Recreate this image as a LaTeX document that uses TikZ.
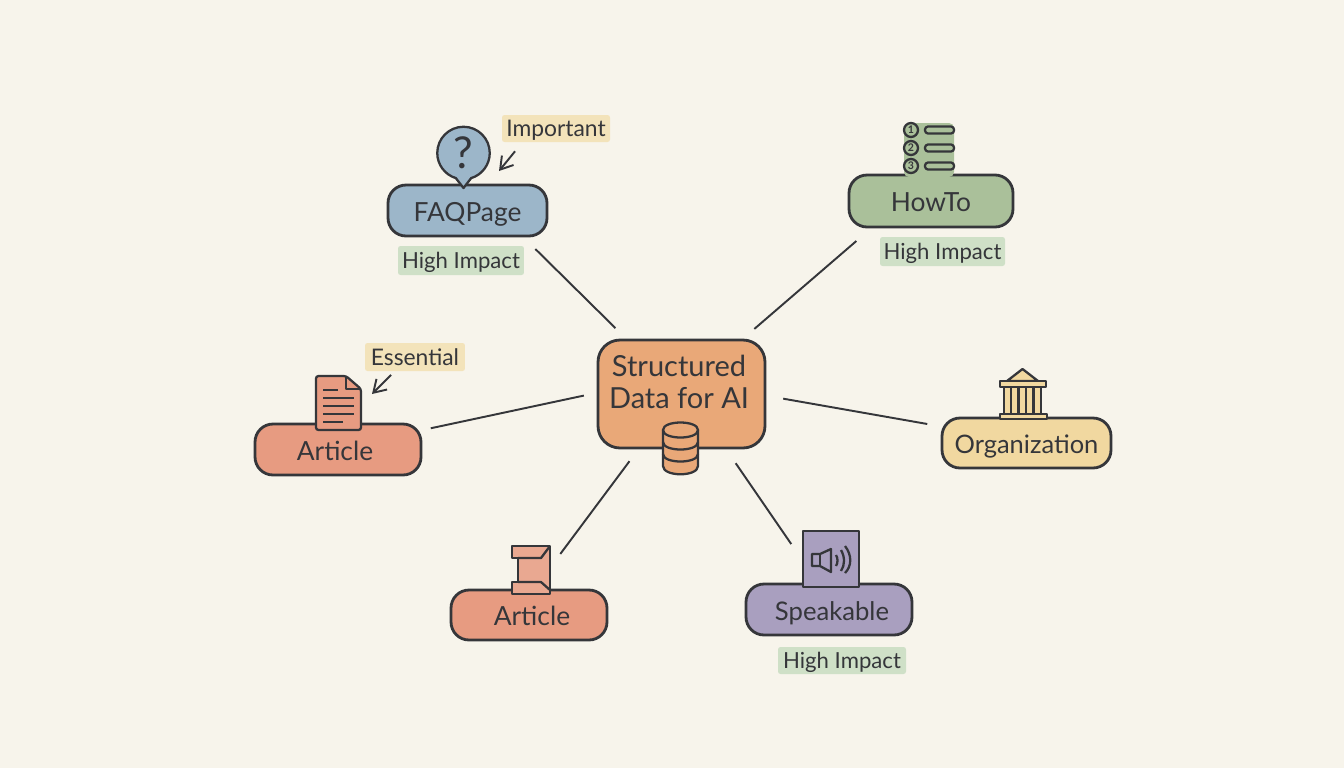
\documentclass[tikz,border=0pt]{standalone}
\usepackage{fontspec}
\setmainfont{Lato}
\usetikzlibrary{arrows.meta,shapes.callouts}

\definecolor{paper}{HTML}{F7F4EB}
\definecolor{ink}{HTML}{35363A}
\definecolor{hubfill}{HTML}{E9A878}
\definecolor{faqfill}{HTML}{9CB6C9}
\definecolor{howfill}{HTML}{AAC09A}
\definecolor{artfill}{HTML}{E79B81}
\definecolor{orgfill}{HTML}{F1D8A0}
\definecolor{spkfill}{HTML}{A99FBF}
\definecolor{goldtag}{HTML}{F3E3BA}
\definecolor{greentag}{HTML}{CFE0C7}

\tikzset{
    topic/.style={draw=ink,line width=1.6pt,rounded corners=.36cm,outer sep=0pt,inner sep=0pt,text=ink,text height=13pt,text depth=.5pt,font=\fontsize{15}{18}\selectfont},
    tag/.style={rounded corners=.05cm,outer sep=0pt,inner sep=0pt,text=ink,text height=10pt,text depth=.5pt,font=\fontsize{13}{16}\selectfont},
    impact/.style={tag,fill=greentag,font=\fontsize{12.6}{16}\selectfont},
    link/.style={draw=ink,line width=1.1pt},
    pointer/.style={draw=ink,line width=1.1pt,-{Straight Barb[length=.24cm,width=.3cm]}},
    icon/.style={draw=ink,line width=1.3pt,line join=round}
}

\begin{document}
\begin{tikzpicture}[x=.02cm,y=-.02cm]
    \useasboundingbox (0,0) rectangle (1344,768);
    \fill[paper] (0,0) rectangle (1344,768);

    % topic boxes
    \node[topic,fill=hubfill,rounded corners=.44cm,minimum width=3.34cm,minimum height=2.16cm] (hub) at (681.5,394) {};
    \node[text=ink,align=center,font=\fontsize{16.5}{17.8}\selectfont] (hubText) at (679,382) {Structured\\Data for AI};
    \node[topic,fill=faqfill,minimum width=3.18cm,minimum height=1.02cm] (faq) at (467.5,210.5) {FAQPage};
    \node[topic,fill=howfill,minimum width=3.28cm,minimum height=1.04cm] (howto) at (931,201) {HowTo};
    \node[topic,fill=artfill,minimum width=3.32cm,minimum height=1.02cm] (article) at (338,449.5) {Article\hspace*{3.4pt}};
    \node[topic,fill=orgfill,minimum width=3.38cm,minimum height=1cm,font=\fontsize{14.5}{18}\selectfont] (org) at (1026.5,443) {Organization};
    \node[topic,fill=artfill,minimum width=3.12cm,minimum height=1cm] (articleB) at (529,615) {\hspace*{3.4pt}Article};
    \node[topic,fill=spkfill,minimum width=3.32cm,minimum height=1.02cm,font=\fontsize{14.6}{18}\selectfont] (speak) at (829,609.5) {\hspace*{3.4pt}Speakable};

    % tags
    \node[tag,fill=goldtag,minimum width=2.16cm,minimum height=.54cm] (important) at (556,128.5) {Important};
    \node[tag,fill=goldtag,minimum width=2cm,minimum height=.56cm] (essential) at (415,357) {Essential};
    \node[impact,minimum width=2.52cm,minimum height=.58cm] (faqImpact) at (461,260.5) {High Impact};
    \node[impact,minimum width=2.5cm,minimum height=.58cm] (howImpact) at (942.5,251.5) {High Impact};
    \node[impact,minimum width=2.56cm,minimum height=.54cm] (spkImpact) at (842,660.5) {High Impact};

    % connectors
    \path (hub.135) edge[link,shorten <=.34cm,shorten >=.37cm] (faq.-25.6);
    \path (hub.42.2) edge[link,shorten <=.34cm,shorten >=.43cm] (howto.204.7);
    \path (hub.-1.2) edge[link,shorten <=.37cm,shorten >=.3cm] (org.169.7);
    \path (hub.179.5) edge[link,shorten <=.29cm,shorten >=.2cm] (article.13.9);
    \path (hub.232.3) edge[link,shorten <=.33cm,shorten >=.9cm] (articleB.80.9);
    \path (hub.-51.4) edge[link,shorten <=.37cm,shorten >=.97cm] (speak.112);

    % tag pointers
    \coordinate (importantTip) at (499,171);
    \coordinate (essentialTip) at (372,394);
    \draw[pointer,shorten <=.24cm] (important.202.6) -- (importantTip);
    \draw[pointer,shorten <=.11cm] (essential.215) -- (essentialTip);

    % faq icon
    \node[ellipse callout,icon,fill=faqfill,inner sep=0pt,outer sep=0pt,minimum width=1.05cm,minimum height=1.05cm,callout absolute pointer={(463.5,188)},callout pointer arc=34,text=ink,font=\fontsize{25}{28}\selectfont] (faqIcon) at (463.5,153) {?};

    % howto icon
    \fill[howfill,rounded corners=.1cm] (904,123) -- (954,123) -- (954,177) -- (904,177) -- cycle;
    \foreach \y/\n in {130/1,148/2,166/3} {
        \node[icon,circle,minimum size=.28cm,inner sep=0pt,text=ink,font=\fontsize{6}{6}\bfseries\selectfont] (step\n) at (911,\y) {\n};
        \draw[icon,fill=howfill,rounded corners=.06cm] (925,\y-3.5) rectangle (954,\y+3.5);
    }

    % database icon
    \draw[icon,fill=hubfill] (663,430) -- (663,466) .. controls (663,477) and (698,477) .. (698,466) -- (698,430) .. controls (698,420) and (663,420) .. cycle;
    \foreach \y in {430,442,454} {
        \draw[icon] (663,\y) .. controls (663,\y+10) and (698,\y+10) .. (698,\y);
    }

    % document icon
    \draw[icon,fill=artfill,rounded corners=.05cm] (316,376) -- (346,376) -- (361,389) -- (361,430) -- (316,430) -- cycle;
    \draw[icon] (346,376) -- (346,389) -- (361,389);
    \draw[icon] (323,390) -- (338,390);
    \foreach \y in {398,406,414} {
        \draw[icon] (323,\y) -- (354,\y);
    }
    \draw[icon] (323,422) -- (343,422);

    % second article icon
    \draw[icon,fill=artfill!85!paper] (512,546) -- (550,546) -- (550,594) -- (512,594) -- (512,582) -- (518,582) -- (518,558) -- (512,558) -- cycle;
    \draw[icon] (550,546) -- (541,558) -- (518,558);
    \draw[icon] (518,582) -- (541,582) -- (550,590);

    % speaker icon
    \draw[icon,fill=spkfill] (803,531) rectangle (859,587);
    \draw[icon] (812,554) -- (820,554) -- (831,549) -- (831,572) -- (820,566) -- (812,566) -- cycle;
    \draw[icon] (820,554) -- (820,566);
    \draw[icon] (836,555) .. controls (838,558) and (838,563) .. (836,566);
    \draw[icon] (841,550) .. controls (845,557) and (845,565) .. (841,571);
    \draw[icon] (845,546) .. controls (852,555) and (852,566) .. (845,573);

    % organization icon
    \draw[icon,fill=orgfill] (1022.5,369) -- (1007,381) -- (1038,381) -- cycle;
    \draw[icon,fill=orgfill] (1004,387) rectangle (1041,414);
    \foreach \x in {1011,1018.5,1026,1033.5} {
        \draw[icon] (\x,387) -- (\x,414);
    }
    \draw[icon,fill=orgfill] (1000,381) rectangle (1046,387);
    \draw[icon,fill=orgfill] (1000,414) rectangle (1047,419);
\end{tikzpicture}
\end{document}
